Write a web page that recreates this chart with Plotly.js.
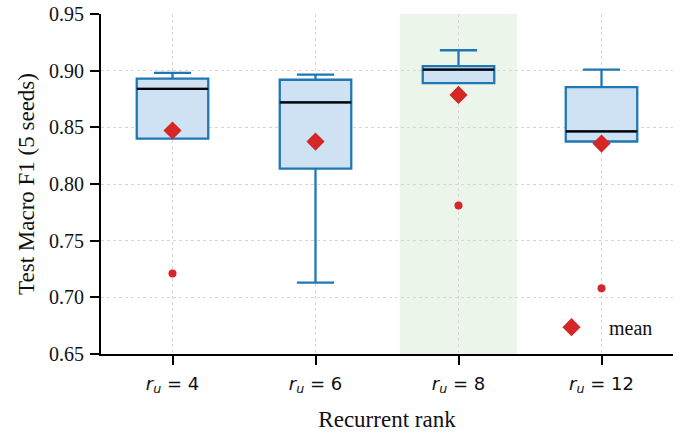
<!DOCTYPE html>
<html>
<head>
<meta charset="utf-8">
<script src="https://cdn.plot.ly/plotly-3.0.1.min.js"></script>
<style>html,body{margin:0;padding:0;background:#fff;}#chart{width:684px;height:432px;}</style>
</head>
<body>
<div id="chart"></div>
<script>
// Ranks (categories) and per-seed test macro F1 values
const ranks = [4, 6, 8, 12];
const tickLabels = ranks.map(r => '<i>r</i><sub><i>u</i></sub> = ' + r);
const seedsR4  = [0.721, 0.840, 0.884, 0.893, 0.898];
const seedsR6  = [0.713, 0.8135, 0.872, 0.892, 0.8965];
const seedsR8  = [0.781, 0.889, 0.901, 0.904, 0.918];
const seedsR12 = [0.708, 0.8375, 0.8465, 0.8855, 0.901];
const allSeeds = [seedsR4, seedsR6, seedsR8, seedsR12];
const highlightIndex = 2; // r_u = 8 shaded
const yTickVals = [0.65, 0.70, 0.75, 0.80, 0.85, 0.90, 0.95];
const yTickText = ['0.65', '0.70', '0.75', '0.80', '0.85', '0.90', '0.95'];

const boxBlue = '#1f77b4';
const red = '#d62728';
const boxHalf = 0.25;

function quantile(arr, p) {
  const s = arr.slice().sort((a, b) => a - b);
  const pos = (s.length - 1) * p;
  const lo = Math.floor(pos), hi = Math.ceil(pos);
  return s[lo] + (s[hi] - s[lo]) * (pos - lo);
}

const bx = [], by = [];
allSeeds.forEach((vals, i) => { vals.forEach(v => { bx.push(i); by.push(v); }); });

const medX = [], medY = [];
allSeeds.forEach((vals, i) => {
  const m = quantile(vals, 0.5);
  medX.push(i - boxHalf, i + boxHalf, null);
  medY.push(m, m, null);
});
const meanX = allSeeds.map((v, i) => i);
const meanY = allSeeds.map(v => v.reduce((a, b) => a + b, 0) / v.length);

const traces = [
  {
    type: 'box', x: bx, y: by, width: 0.5, quartilemethod: 'inclusive',
    boxpoints: 'outliers', jitter: 0, pointpos: 0, whiskerwidth: 0.52,
    fillcolor: '#cfe2f3', line: {color: boxBlue, width: 2.3},
    marker: {color: red, size: 8, line: {width: 0}},
    showlegend: false, hoverinfo: 'skip'
  },
  {
    type: 'scatter', mode: 'lines', x: medX, y: medY,
    line: {color: '#000', width: 2.3}, showlegend: false, hoverinfo: 'skip'
  },
  {
    type: 'scatter', mode: 'markers', x: meanX, y: meanY, name: 'mean',
    marker: {symbol: 'diamond', color: red, size: 14, line: {width: 0}},
    showlegend: true, hoverinfo: 'skip'
  }
];

const serif = 'Liberation Serif, Times New Roman, serif';
const layout = {
  width: 684, height: 432,
  margin: {l: 101, r: 11, t: 14, b: 78},
  paper_bgcolor: '#fff', plot_bgcolor: '#fff',
  font: {family: serif, color: '#111', size: 20},
  showlegend: true,
  legend: {x: 0.757, y: 0.079, xanchor: 'left', yanchor: 'middle', bgcolor: 'rgba(0,0,0,0)',
           font: {family: serif, size: 20, color: '#111'}, itemwidth: 65},
  xaxis: {
    range: [-0.5, 3.5], tickmode: 'array', tickvals: ranks.map((r, i) => i), ticktext: tickLabels,
    tickfont: {family: 'DejaVu Sans, sans-serif', size: 18, color: '#111'}, ticklabelstandoff: 3,
    showline: true, linecolor: '#000', linewidth: 2,
    ticks: 'outside', ticklen: 9, tickwidth: 2, tickcolor: '#000',
    showgrid: true, gridcolor: '#d6d6d6', griddash: 'dot', gridwidth: 1,
    zeroline: false, mirror: false,
    title: {text: 'Recurrent rank', font: {family: serif, size: 23, color: '#111'}, standoff: 17}
  },
  yaxis: {
    range: [0.65, 0.95], tickmode: 'array', tickvals: yTickVals, ticktext: yTickText,
    tickfont: {family: serif, size: 20, color: '#111'}, ticklabelstandoff: 2,
    showline: true, linecolor: '#000', linewidth: 2,
    ticks: 'outside', ticklen: 9, tickwidth: 2, tickcolor: '#000',
    showgrid: true, gridcolor: '#d6d6d6', griddash: 'dot', gridwidth: 1,
    zeroline: false,
    title: {text: 'Test Macro F1 (5 seeds)', font: {family: serif, size: 23, color: '#111'}, standoff: 8}
  },
  shapes: [{
    type: 'rect', xref: 'x', yref: 'paper', x0: highlightIndex - 0.41, x1: highlightIndex + 0.41,
    y0: 0, y1: 1, fillcolor: 'rgb(236,245,234)', line: {width: 0}, layer: 'below'
  }]
};

Plotly.newPlot('chart', traces, layout, {staticPlot: true, displayModeBar: false});
</script>
</body>
</html>
